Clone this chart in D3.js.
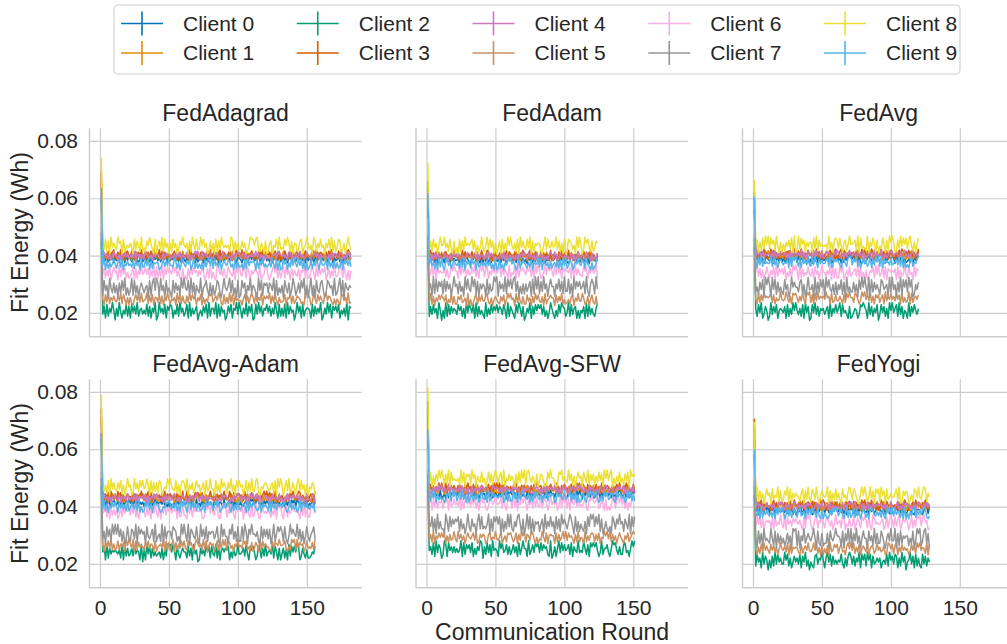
<!DOCTYPE html>
<html lang="en">
<head>
<meta charset="UTF-8">
<title>Fit Energy per Client</title>
<script src="https://d3js.org/d3.v7.min.js"></script>
<style>
  body { margin: 0; background: #fff; }
  svg { display: block; font-family: "Liberation Sans", Arial, sans-serif; }
  .axis .domain { display: none; }
  .axis line { stroke: #cccccc; stroke-width: 1.2; }
  .axis text { fill: #262626; font-size: 21px; font-family: "Liberation Sans", Arial, sans-serif; }
</style>
</head>
<body>
<svg id="chart" width="1007" height="644"></svg>
<script>
// ---- data ----
const panelNames = ["FedAdagrad", "FedAdam", "FedAvg", "FedAvg-Adam", "FedAvg-SFW", "FedYogi"];
const clientNames = ["Client 0", "Client 1", "Client 2", "Client 3", "Client 4",
                     "Client 5", "Client 6", "Client 7", "Client 8", "Client 9"];
const lastRound = [182, 124, 120, 156, 151, 128];
const xTicks = [0, 50, 100, 150];
const yTicks = [0.02, 0.04, 0.06, 0.08];

// round 1 energy (the start-up spike)
const spikeAdagrad = [0.060, 0.066, 0.045, 0.069, 0.062, 0.050, 0.055, 0.048, 0.074, 0.0636];
const spikeAdam    = [0.058, 0.063, 0.044, 0.066, 0.059, 0.049, 0.053, 0.047, 0.0723, 0.0617];
const spikeAvg     = [0.056, 0.060, 0.043, 0.062, 0.057, 0.048, 0.052, 0.046, 0.0664, 0.0606];
const spikeAvgAdam = [0.064, 0.071, 0.047, 0.074, 0.066, 0.052, 0.058, 0.050, 0.079, 0.0657];
const spikeAvgSfw  = [0.065, 0.074, 0.048, 0.0768, 0.068, 0.053, 0.060, 0.051, 0.0815, 0.0669];
const spikeYogi    = [0.058, 0.068, 0.044, 0.0706, 0.063, 0.049, 0.054, 0.047, 0.0695, 0.0599];

// centre of each client's band from round 2 on
const levelAdagrad = [0.0388, 0.0398, 0.0206, 0.0400, 0.0398, 0.0246, 0.0338, 0.0283, 0.0432, 0.0368];
const levelAdam    = [0.0385, 0.0395, 0.0205, 0.0398, 0.0395, 0.0244, 0.0343, 0.0288, 0.0432, 0.0368];
const levelAvg     = [0.0386, 0.0400, 0.0205, 0.0403, 0.0402, 0.0250, 0.0338, 0.0286, 0.0436, 0.0375];
const levelAvgAdam = [0.0410, 0.0428, 0.0238, 0.0433, 0.0428, 0.0262, 0.0380, 0.0300, 0.0465, 0.0398];
const levelAvgSfw  = [0.0440, 0.0457, 0.0250, 0.0462, 0.0458, 0.0290, 0.0410, 0.0335, 0.0495, 0.0432];
const levelYogi    = [0.0385, 0.0400, 0.0210, 0.0403, 0.0400, 0.0250, 0.0342, 0.0285, 0.0436, 0.0375];

// Wh per digit step of each client's round-to-round readings
const bandStep = [0.00038, 0.00038, 0.00068, 0.00045, 0.00038, 0.00052, 0.00065, 0.00085, 0.00072, 0.0005];

// per-round readings from round 2 on, one digit per round (4.5 = band centre)
const noiseAdagrad = [
  "4637254816 3527461938 5264731582 4736251947 3625847153 5473628194 2638475162 4751936284 3846152739 5927364185 4163825749 3748261593 5281647392 4637159284 2854736193 6371824956 3582947163 4729163584 5183746295",
  "5362718495 2847361952 6183947256 3958271643 4726183595 5381726494 3694825173 2518473966 4863927151 3795162848 6241837594 3519284763 4852617395 2976348152 5438162974 3692758416 4185293675 5729364812 3846271596",
  "3718264950 6294153827 1847392563 5382716490 2946381758 7153829462 4819263570 3527481926 6391827450 2748165939 5163927480 1839472658 4726395182 6281937450 3947182566 5182736490 2639481757 4815362907 6392718453",
  "6254813792 4739261584 3861527493 5147382966 2938475161 4682917354 5319846272 3746258193 6825193474 2581736945 4937261583 3164829576 5729384161 4385172693 6917264835 3258491676 4673829155 2846153797 5391728464",
  "3847261595 5162938473 4739184626 2985361748 6314827592 3572948163 4826153979 5193764282 2768341955 4351927686 3682915474 5947263183 2418573966 4736189252 6259371484 3185947263 5842619377 4379251868 2964835171",
  "5183926474 3749285161 6215847393 4592738166 3827164952 5461938273 2739485616 4816253979 3574962182 6293817454 4158372696 2836491757 5927384163 3481659272 4765231988 6139528474 2894763151 5317846292 3682917545",
  "4726391585 6193847252 3581726494 5847263918 2639174856 4958362171 3172948563 6485137292 5219846373 2864371959 4397285164 6752813498 3146958272 5928461736 4371659282 2685193747 5814726393 3597284161 6248173595",
  "2846195373 6173849252 4928361575 3561827949 7294618353 1837462959 5482937164 3915684272 6248731595 4693825181 2857164936 5319482767 3764918253 6185372496 2473859161 5926184378 4138756292 3692817546 5817349263",
  "5382719464 3967182454 6418375292 4275963181 5739284616 2846137595 4617295383 3958461272 6182739545 4529817363 3746125988 5893264171 2671548393 4385962716 6237814595 3519726484 5164839272 4872361595 3296754181",
  "4917263585 2683915474 5372846193 3849172656 6125837494 4397261585 3758149262 5261837949 2946381575 4873519263 3518294767 6182749353 4639528171 2857163949 5394827161 3726485195 4581936272 6239175848 3874261595"
];
const noiseAdam = [
  "3846271595 5293817464 4618273951 2759364182 6381529474 3927461585 4572839162 5184627393 2836154979 4691827354 3158749262 5726381949 4382917656",
  "6182734959 3947261585 5271938464 4836152797 2658317494 5394826171 3729461858 6153827494 4827396152 3561948272 5948162735 2784539161 4316825979",
  "2738461950 5192837465 3857261949 6481927353 1926384758 4763851927 5318496270 2649173858 6837251496 3152849762 4928367151 5471928363 2693817455",
  "4957281636 3682517494 6241938575 5837164292 3498261755 2763849186 5182637494 4639271853 3827465191 6351829474 2917546383 5486173926 4175829365",
  "5271839464 3846172959 4923651787 6158392474 2739486153 4582917366 3617284959 5294836171 4836152796 2971385464 6348271595 3752964182 5184739261",
  "3927164858 6481539272 2758346191 5136927484 4893261575 3274815969 5619384272 2846173958 4371925686 6183749252 3527816494 4962371583 2718465939",
  "6382917454 4726138595 5193847263 3748261959 2681537494 5927364181 4381926575 3657281949 6124839575 2839461756 5471928363 3285716494 4918362757",
  "4619283757 2837461595 6273519484 3958271646 5182634979 1746392858 4893715262 6357182949 2739461585 5164837293 3826194757 4572931686 2941856373",
  "3728461595 5946283171 4182739565 6837152494 2593847161 4718263959 5362819474 3849172656 6215938447 4593726181 2876351949 5139684272 4761823595",
  "5846271939 3179462585 4628391757 2957183464 6384725191 3825164979 5741392686 4263817559 3918546272 5637281949 2486137595 4872953161 3591742868"
];
const noiseAvg = [
  "4829361575 3571846292 6248173959 2936485171 5183729464 4762913858 3815264979 5947382161 2683517494 4391826757 6174839252 3528164979 4957218363",
  "3716284959 5849172636 2683951747 4927361585 6152837494 3784625191 5269483767 4831752969 2974316855 5618293474 3492857161 6285137494 4739261858",
  "6284913750 2937481565 4718263959 5362819470 1849372656 3571926484 6928453171 2465138797 5193726480 3847261959 4682937154 1927485369 5374918262",
  "5283749161 3958261474 6147382595 2739516484 4862937151 5316847292 3791825646 6428173959 2584961373 4937261585 3162849757 5847362191 4293716585",
  "2957183646 5381926474 4726381959 3649271585 5193846272 2867351949 6418273595 3752946181 4285719363 5931624878 3674281595 2518937464 6149273858",
  "4182739565 6827153494 3495261878 5263841979 2718394656 4956182373 3641728595 5287413969 4839261757 2571936484 6384719252 3918256474 5246831797",
  "5937261484 2648193757 4815372969 6192735484 3728461595 5364819272 2859146383 4673928151 6136582949 3492817656 5718263494 2845193767 4271936585",
  "3527481969 6194827353 2846139575 5378261494 4619273858 1958436272 6482719353 3736184959 5291837464 2874561939 4617392858 3958126474 6182734595",
  "4716283959 3857294161 5264738191 2938571646 6183927454 4529361787 3841672595 5672918343 2916485171 4385172969 6127394858 3794261585 5418936272",
  "6183927454 4928361575 3547182969 5271846393 2839517464 4682913757 5316742898 3759261484 6248173959 2917465383 4573829161 3168254797 5824937161"
];
const noiseAvgAdam = [
  "4739261585 3827164959 5918372646 2647183595 6384925171 4172938565 3856471292 5293817464 2748365191 4681927353 6135824979 3597261848 5284719363 4716392858 2963548171 5381726494",
  "5827164939 3694821575 4158372969 6372915484 2849163757 5713928464 3486271959 4925183676 6241739585 3579482161 5138264797 2864917353 4692381575 6317529484 3845172696 5219384767",
  "5819274656 5462918373 4738465190 6194827353 4527163989 5961842575 5283719460 1746395828 4392816757 6815273494 4573941868 5138627393 5649285171 4726193858 5981374262 2354817696",
  "6273819454 3948162575 5182736494 2759381646 4618293757 5371846292 3926154878 6483721595 2817465393 4395182767 5629371484 3172846959 4857293161 6241738595 3598264171 5714936282",
  "2946371585 5281746393 4639182757 3817265949 6452918373 3794261585 5128473696 2683917454 4971352868 6315284797 3846172959 5492831676 2718465393 4163927585 5837261494 3296184757",
  "5174839262 3826471959 6391827454 2748365181 4563918272 5917263848 3285741696 4629381575 6148273959 2873516494 5396824171 3751928464 4218376595 5683142979 2947561383 4372918565",
  "4582917363 6137284959 3849261575 5273816494 2916483757 4658172393 3194827565 5721386949 4386215979 2649731858 5817463292 3962187454 6425391878 3178264595 5741839262 2896415373",
  "3618472959 5947261383 2763918575 6184357292 4529183666 3876241959 5291764383 1947382656 6358219474 4175936282 2839617595 5462183747 3714925868 6283149575 4937261484 2568319757",
  "5362819474 3748261595 6129473858 4596182737 2871354969 5438261787 3916472585 6257183494 4183629575 2749361858 5614827393 3892154676 4367281959 6158392474 2793846161 5476129383",
  "3927164858 5184736292 4763829151 2859371686 6312548797 3748261959 5169384727 4237195868 2695813474 5841726393 3576192848 6423817565 2918463757 4782159363 5139276484 3647182595"
];
const noiseAvgSfw = [
  "5283746191 3617294858 4952816373 2748361595 6185392474 3926471858 5471829363 2839164757 4613728595 6297481353 3758162949 5184936272 2649173858 4826351797 3571924686 5938264171",
  "3946281575 6172839454 2859461787 4637192858 5381746292 2794163858 6458213979 3926847151 5163728494 4729531686 2836194757 5617382949 3948275161 6251839474 4183962757 2574816393",
  "4628193750 2971846363 5349182757 3815264980 6283719454 1958347262 4736182595 5192473868 3847562190 2615938474 5728164393 4395271868 6841392557 3159784262 2783415969 5426813797",
  "2857163949 5391826474 4726138595 6183954272 3648271959 5917382646 2489163757 4253718696 6731842585 3592617484 5148263979 2974385161 4816293757 6327158494 3759461282 5184927363",
  "6148372959 3725918464 5392846171 2816473595 4683129757 5271938464 3957461282 6483127595 2618394767 4937251858 3184762979 5826319474 4371852696 2649137585 5913674282 3758261494",
  "3729164858 5816273494 2947361585 4683912757 6127835494 3591462878 5248173969 2763984151 4395281676 6182735949 3856417292 5419263787 2738154969 4927361585 3164825797 5682719363",
  "4917382656 2658193474 5381726949 3749261585 6213874595 4582931767 2937164858 5164829373 3826751494 6471382959 2719548363 4358217696 5692384171 3147826959 4826153787 2593817464",
  "5482719363 3196284757 6827351494 2745169383 4359172868 5817263949 3264895171 4938172656 2571936484 6183729575 3697418262 5326184979 4859271363 2418637595 6275391848 3941726484",
  "3816274959 6273918454 4529381767 2957164383 5148372696 3682915474 6417283959 2895364171 4763128595 5312879464 3947261585 6185392747 2638471959 4791526383 5274819676 3856172494",
  "6294817353 4137682959 2583946171 5826371494 3719248565 4658139272 2947183696 5371628484 3816492757 6128574393 4592738161 2763185979 5941362858 3487219575 4613958272 2859371646"
];
const noiseYogi = [
  "4618372959 2957183464 5392846171 3846172959 6127394858 2783516494 4936281757 5261839474 3718462595 6439175282 2594836171 4873219565 3157928464",
  "5739261484 3184726959 6428193757 2857361494 4693827151 5318264979 3746192858 6295381747 4162837595 2879514363 5643827191 3917265848 4281736595",
  "2846193750 5172938463 3958261474 6381749250 4217836595 1694827353 5483162797 3726491858 2958173464 6145382957 3871629470 4593718262 1837264959",
  "6283917454 4159372868 2746381595 5391846272 3827164959 6158293474 4693517282 2817463959 5374928161 3962185474 4528371696 6143829575 2759361848",
  "3957261484 5628314979 4183726595 2746391858 6315827494 3872916353 5248173969 4691358272 2936184757 5817263494 3469152878 4725381696 6183947252",
  "5162839474 2847361595 4739182656 6318257494 3594826171 5271934868 2683417959 4926381575 3815762494 6347129858 2791638464 5138472969 4652918373",
  "3849271565 6271835494 2918463757 5463182979 4137926585 2785361494 5629814373 3914752868 6283197454 4571382696 2836914757 5148263979 3795612484",
  "6183729454 3952817363 5247361989 2816493575 4695183272 3371854696 6528174939 2749361585 5184629373 3863157494 4917283656 6253814979 2489371565",
  "4927361585 6183549272 3759182646 5426817393 2863941575 4591726383 6318452797 3874216959 5249371868 2957183464 4683912757 6135287494 3798264151",
  "5381926474 3627184959 6148372585 2793561848 4856293171 5312748696 3684159272 4927361585 2519874363 6273185949 3846527191 5163892747 4798213656"
];

const colors = ["#0173b2", "#de8f05", "#029e73", "#d55e00", "#cc78bc",
                "#ca9161", "#fbafe4", "#949494", "#ece133", "#56b4e9"];

const panelSpikes = [spikeAdagrad, spikeAdam, spikeAvg, spikeAvgAdam, spikeAvgSfw, spikeYogi];
const panelLevels = [levelAdagrad, levelAdam, levelAvg, levelAvgAdam, levelAvgSfw, levelYogi];
const panelNoise = [noiseAdagrad, noiseAdam, noiseAvg, noiseAvgAdam, noiseAvgSfw, noiseYogi];

// ---- layout ----
const svg = d3.select("#chart");
const colLeft = [89.5, 416, 742.5];
const plotW = 272.2;
const rowTop = [128.3, 379.3];
const plotH = 208.4;
const xDomain = [-7.6, 189.8];
const yDomain = [0.0117, 0.0844];

svg.append("rect").attr("width", 1007).attr("height", 644).attr("fill", "#fff");

panelNames.forEach((name, i) => {
  const col = i % 3, row = Math.floor(i / 3);
  const x = d3.scaleLinear().domain(xDomain).range([colLeft[col], colLeft[col] + plotW]);
  const y = d3.scaleLinear().domain(yDomain).range([rowTop[row] + plotH, rowTop[row]]);
  const bottom = rowTop[row] + plotH;

  // grid + tick labels
  svg.append("g")
    .attr("class", "axis")
    .attr("transform", `translate(0,${bottom})`)
    .call(d3.axisBottom(x).tickValues(xTicks).tickSize(-plotH).tickPadding(12.4)
      .tickFormat(row === 1 ? d3.format("d") : () => ""));

  svg.append("g")
    .attr("class", "axis")
    .attr("transform", `translate(${colLeft[col]},0)`)
    .call(d3.axisLeft(y).tickValues(yTicks).tickSize(-plotW).tickPadding(11.5)
      .tickFormat(col === 0 ? d3.format(".2f") : () => ""));

  // spines (left + bottom)
  svg.append("line").attr("x1", colLeft[col]).attr("x2", colLeft[col])
    .attr("y1", rowTop[row]).attr("y2", bottom)
    .attr("stroke", "#cccccc").attr("stroke-width", 1.5);
  svg.append("line").attr("x1", colLeft[col]).attr("x2", colLeft[col] + plotW)
    .attr("y1", bottom).attr("y2", bottom)
    .attr("stroke", "#cccccc").attr("stroke-width", 1.5);

  // series
  const last = lastRound[i];
  const series = clientNames.map((c, k) => {
    const digits = panelNoise[i][k].replace(/ /g, "").slice(0, last - 1);
    const pts = [{ round: 1, value: panelSpikes[i][k] }];
    for (let j = 0; j < digits.length; j++) {
      pts.push({ round: j + 2, value: panelLevels[i][k] + (+digits[j] - 4.5) * bandStep[k] });
    }
    return pts;
  });

  const line = d3.line().x(d => x(d.round)).y(d => y(d.value));
  svg.append("g").selectAll("path")
    .data(series)
    .join("path")
    .attr("d", line)
    .attr("fill", "none")
    .attr("stroke", (d, k) => colors[k])
    .attr("stroke-width", 1.5)
    .attr("stroke-linejoin", "round");

  // title
  svg.append("text")
    .attr("x", colLeft[col] + plotW / 2)
    .attr("y", rowTop[row] - 7)
    .attr("text-anchor", "middle")
    .attr("fill", "#262626")
    .attr("font-size", 23)
    .text(name);

  if (col === 0) {
    svg.append("text")
      .attr("transform", `translate(28,${rowTop[row] + plotH / 2}) rotate(-90)`)
      .attr("text-anchor", "middle")
      .attr("fill", "#262626")
      .attr("font-size", 23)
      .text("Fit Energy (Wh)");
  }
});

svg.append("text")
  .attr("x", (colLeft[0] + colLeft[2] + plotW) / 2)
  .attr("y", 639.5)
  .attr("text-anchor", "middle")
  .attr("fill", "#262626")
  .attr("font-size", 23)
  .text("Communication Round");

// ---- legend ----
const legend = svg.append("g");
legend.append("rect")
  .attr("x", 114).attr("y", 5).attr("width", 846).attr("height", 69)
  .attr("rx", 4)
  .attr("fill", "#fff").attr("fill-opacity", 0.8)
  .attr("stroke", "#d0d0d0").attr("stroke-width", 1.2);

const legendRows = [23.5, 53];
clientNames.forEach((c, k) => {
  const lx = 121 + Math.floor(k / 2) * 175.75;
  const ly = legendRows[k % 2];
  legend.append("line")
    .attr("x1", lx).attr("x2", lx + 42).attr("y1", ly).attr("y2", ly)
    .attr("stroke", colors[k]).attr("stroke-width", 1.6);
  legend.append("line")
    .attr("x1", lx + 21).attr("x2", lx + 21).attr("y1", ly - 12).attr("y2", ly + 12)
    .attr("stroke", colors[k]).attr("stroke-width", 1.6);
  legend.append("text")
    .attr("x", lx + 62).attr("y", ly)
    .attr("dy", "0.35em")
    .attr("fill", "#262626")
    .attr("font-size", 21)
    .text(c);
});
</script>
</body>
</html>
